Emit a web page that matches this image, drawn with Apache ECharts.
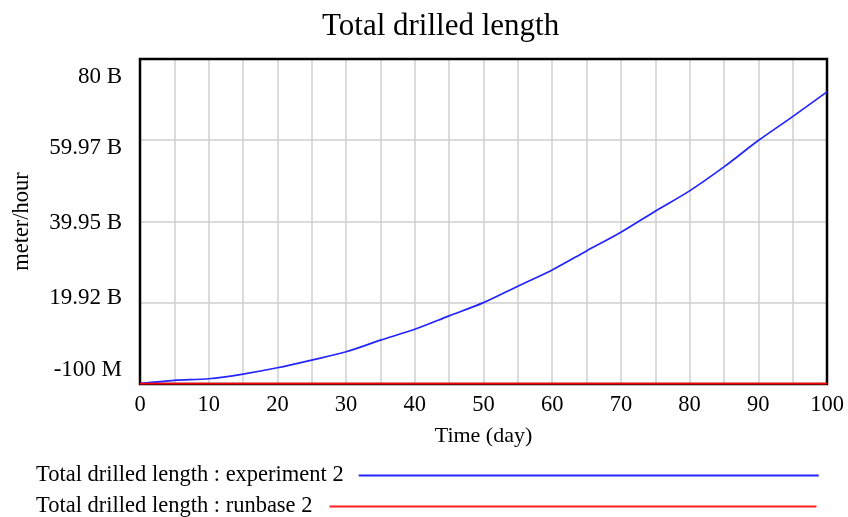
<!DOCTYPE html>
<html>
<head>
<meta charset="utf-8">
<script src="https://cdn.jsdelivr.net/npm/echarts@6/dist/echarts.min.js"></script>
<style>
html,body{margin:0;padding:0;background:#fff;}
#chart{width:848px;height:517px;}
</style>
</head>
<body>
<div id="chart"></div>
<script>
// Data (values in billions of meter/hour)
var days = [0,5,10,15,20,25,30,35,40,45,50,55,60,65,70,75,80,85,90,95,100];
var experiment2 = [0,0.8,1.2,2.35,3.9,5.8,7.85,10.7,13.4,16.7,19.95,24.0,28.0,32.7,37.3,42.5,47.5,53.4,59.9,65.8,71.9];
var runbase2 = [0,0,0,0,0,0,0,0,0,0,0,0,0,0,0,0,0,0,0,0,0];
var yTickLabels = ['-100 M','19.92 B','39.95 B','59.97 B','80 B'];
var yMin = -0.1, yMax = 80, yInterval = 20.025;
var seriesNames = ['Total drilled length : experiment 2','Total drilled length : runbase 2'];

var FONT = '"Liberation Serif", "DejaVu Serif", serif';
var labelKeys = ['b2','b1','m','t1','t2'];

function pairs(xs, ys){ return xs.map(function(x,i){ return [x, ys[i]]; }); }

var chart = echarts.init(document.getElementById('chart'), null, {renderer:'canvas'});
chart.setOption({
  animation:false,
  backgroundColor:'#ffffff',
  title:{
    text:'Total drilled length',
    left:317, top:6,
    textStyle:{fontFamily:FONT,fontSize:31,fontWeight:'normal',color:'#000'}
  },
  grid:{left:140, top:59, right:21, bottom:133, show:true, borderColor:'#000', borderWidth:2.5, containLabel:false, z:3},
  xAxis:{
    type:'value', min:0, max:100, interval:5,
    name:'Time (day)', nameLocation:'middle', nameGap:41,
    nameTextStyle:{fontFamily:FONT,fontSize:22,color:'#000'},
    axisLine:{show:false}, axisTick:{show:false},
    axisLabel:{fontFamily:FONT,fontSize:22.5,color:'#000',margin:10,
      formatter:function(v){ return (Math.round(v)%10===0) ? String(Math.round(v)) : ''; }},
    splitLine:{show:true,showMinLine:false,showMaxLine:false,lineStyle:{color:'#cfcfcf',width:1.5}}
  },
  yAxis:{
    type:'value', min:yMin, max:yMax, interval:yInterval,
    name:'meter/hour', nameLocation:'middle', nameGap:106,
    nameTextStyle:{fontFamily:FONT,fontSize:22.5,color:'#000'},
    axisLine:{show:false}, axisTick:{show:false},
    axisLabel:{fontFamily:FONT,fontSize:23,color:'#000',margin:18,
      formatter:function(v,i){ return '{'+labelKeys[i]+'|'+yTickLabels[i]+'}'; },
      rich:{
        t2:{fontFamily:FONT,fontSize:23,color:'#000',padding:[36,0,0,0]},
        t1:{fontFamily:FONT,fontSize:23,color:'#000',padding:[16,0,0,0]},
        m:{fontFamily:FONT,fontSize:23,color:'#000',padding:[2,0,0,0]},
        b1:{fontFamily:FONT,fontSize:23,color:'#000',padding:[0,0,10,0]},
        b2:{fontFamily:FONT,fontSize:23,color:'#000',padding:[0,0,28,0]}
      }},
    splitLine:{show:true,showMinLine:false,showMaxLine:false,lineStyle:{color:'#cfcfcf',width:1.5}}
  },
  legend:[
    {data:[seriesNames[0]], orient:'vertical', left:31, top:459, align:'right',
     icon:'rect', itemWidth:460, itemHeight:2,
     textStyle:{fontFamily:FONT,fontSize:22.5,color:'#000',padding:[0,10,0,0]}},
    {data:[seriesNames[1]], orient:'vertical', left:31, top:490, align:'right',
     icon:'rect', itemWidth:487, itemHeight:2,
     textStyle:{fontFamily:FONT,fontSize:22.5,color:'#000',padding:[0,12,0,0]}}
  ],
  series:[
    {name:seriesNames[0], type:'line', data:pairs(days,experiment2), showSymbol:false, symbol:'none',
     smooth:0.3, lineStyle:{color:'#2424ff',width:1.7}, itemStyle:{color:'#2424ff'}},
    {name:seriesNames[1], type:'line', data:pairs(days,runbase2), showSymbol:false, symbol:'none',
     lineStyle:{color:'#ff0000',width:1.8}, itemStyle:{color:'#ff2020'}}
  ]
});
</script>
</body>
</html>
